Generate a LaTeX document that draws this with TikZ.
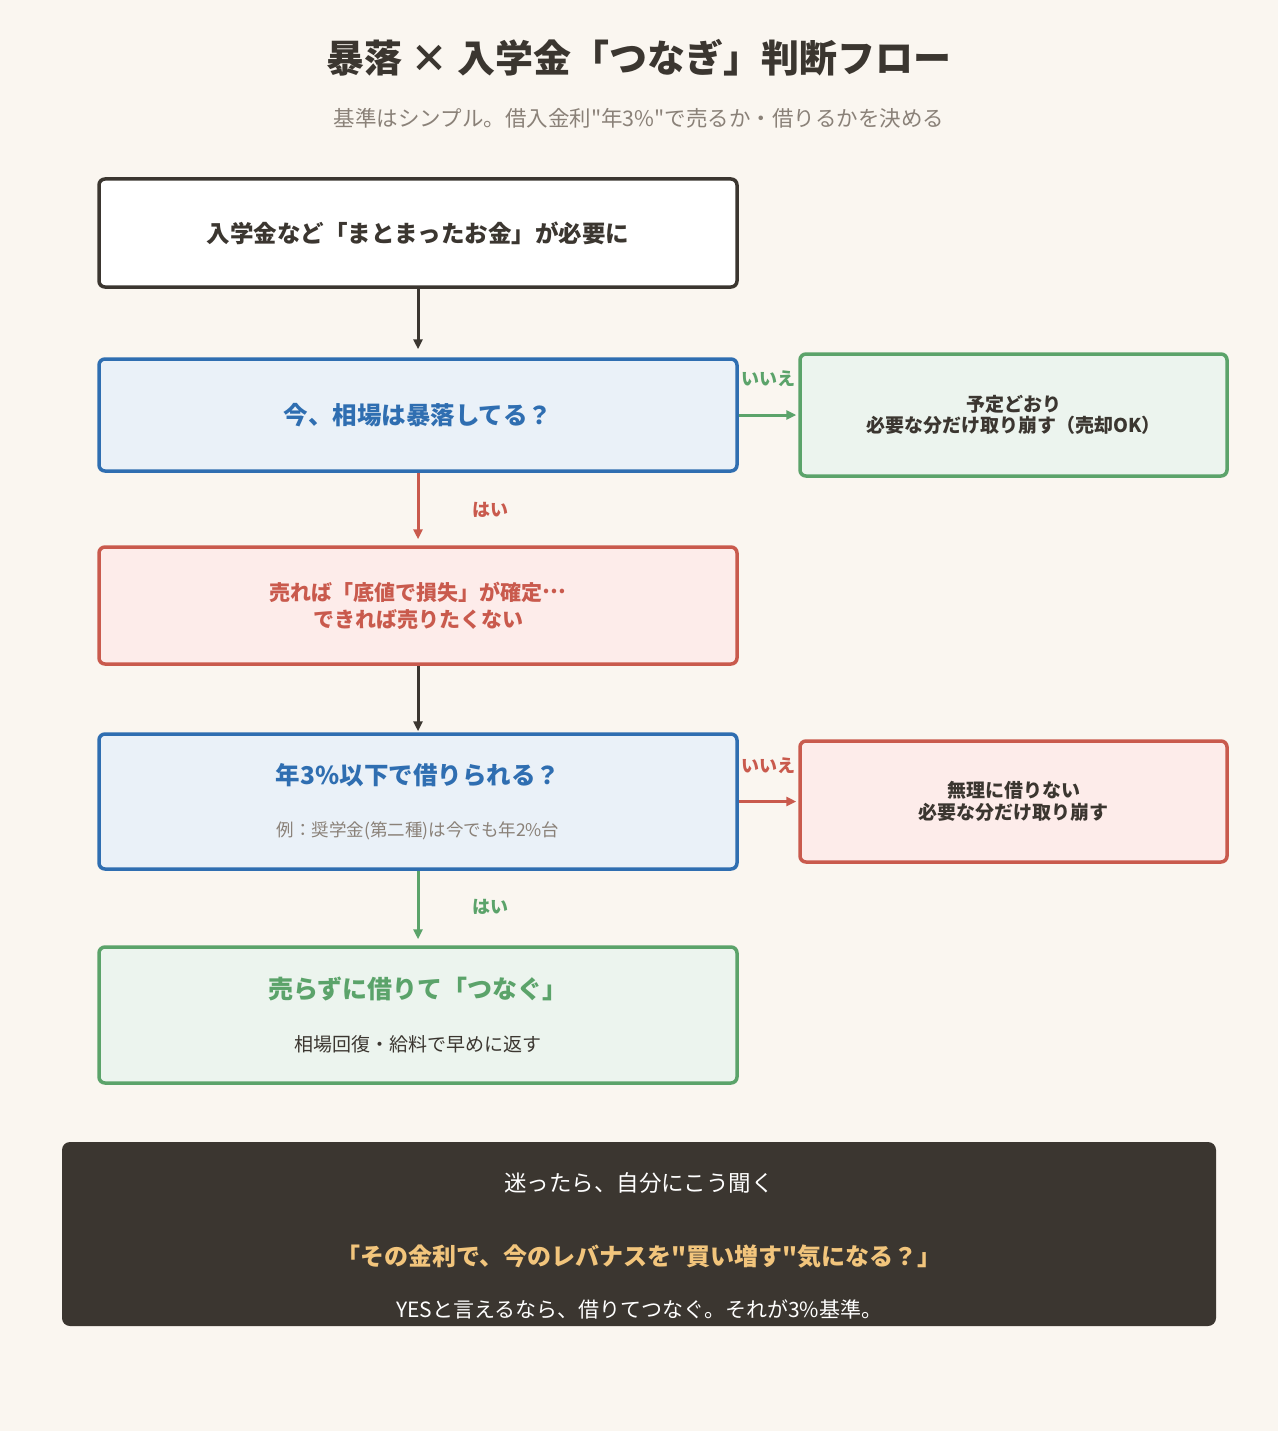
\documentclass[tikz,border=0pt]{standalone}
\usepackage{fontspec}
\setmainfont{Noto Sans CJK JP}[Ligatures=TeXOff]
\usetikzlibrary{arrows.meta}
\definecolor{kbg}{HTML}{FAF6F0}
\definecolor{kdark}{HTML}{3B3630}
\definecolor{kgray}{HTML}{8A8178}
\definecolor{kblue}{HTML}{2F6EB1}
\definecolor{kbluefill}{HTML}{EAF1F8}
\definecolor{kgreen}{HTML}{5BA36A}
\definecolor{kgreenfill}{HTML}{ECF4EE}
\definecolor{kred}{HTML}{C95A4D}
\definecolor{kredfill}{HTML}{FDECEA}
\definecolor{kgold}{HTML}{F2C57C}
\tikzset{
  box/.style={draw, rounded corners=6pt, line width=3.5pt, align=center, minimum width=638pt, inner sep=0pt},
  kstart/.style={box, fill=white, draw=kdark, text=kdark, font=\fontsize{23.5}{27}\selectfont\bfseries},
  kquestion/.style={box, fill=kbluefill, draw=kblue, text=kblue},
  kwarn/.style={box, fill=kredfill, draw=kred, text=kred},
  kok/.style={box, fill=kgreenfill, draw=kgreen, text=kgreen},
  kside/.style={box, minimum width=427pt, text=kdark, font=\fontsize{19}{21.5}\selectfont\bfseries},
  kpanel/.style={fill=kdark, rounded corners=8pt, minimum width=1154pt, minimum height=184pt},
  flow/.style={-{Triangle[length=10pt,width=9pt]}, line width=3pt},
  lbl/.style={font=\fontsize{18}{20}\selectfont\bfseries},
}
\newcommand{\qfont}{\fontsize{24.5}{28}\selectfont\bfseries}
\newcommand{\subfont}{\fontsize{17.5}{20}\selectfont\mdseries}

\begin{document}
\begin{tikzpicture}[x=1pt, y=-1pt]
    \fill[kbg] (0,0) rectangle (1278,1431);
    \useasboundingbox (0,0) rectangle (1278,1431);
    \node[text=kdark, font=\fontsize{38}{42}\selectfont\bfseries] (title) at (639,58) {暴落 × 入学金「つなぎ」判断フロー};
    \node[text=kgray, font=\fontsize{21.5}{24}\selectfont] (subtitle) at (639,118) {基準はシンプル。借入金利"年3\%"で売るか・借りるかを決める};
    \node[kstart, minimum height=108pt] (need) at (418,233) {入学金など「まとまったお金」が必要に};
    \node[kquestion, minimum height=112pt, font=\qfont] (crash) at (418,415) {今、相場は暴落してる？};
    \node[kside, fill=kgreenfill, draw=kgreen, minimum height=122pt] (plan) at (1013.5,415) {予定どおり\\必要な分だけ取り崩す（売却OK）};
    \node[kwarn, minimum height=117pt, font=\fontsize{21}{27}\selectfont\bfseries] (loss) at (418,605.5) {売れば「底値で損失」が確定\raisebox{0.3em}{…}\\できれば売りたくない};
    \node[kquestion, minimum height=135pt] (rate) at (418,801.5) {{\qfont 年3\%以下で借りられる？}\\[34pt]{\subfont\color{kgray}例：奨学金(第二種)は今でも年2\%台}};
    \node[kside, fill=kredfill, draw=kred, minimum height=121pt] (noborrow) at (1013.5,801.5) {無理に借りない\\必要な分だけ取り崩す};
    \node[kok, minimum height=136pt] (bridge) at (418,1015) {{\fontsize{25}{28}\selectfont\bfseries 売らずに借りて「つなぐ」}\\[33pt]{\fontsize{19}{22}\selectfont\mdseries\color{kdark}相場回復・給料で早めに返す}};
    \node[kpanel] (panel) at (639,1234) {};
    \node[text=white, font=\fontsize{22.5}{25}\selectfont] (ask) at (639,1183) {迷ったら、自分にこう聞く};
    \node[text=kgold, font=\fontsize{24}{28}\selectfont\bfseries] (quote) at (639,1256) {「その金利で、今のレバナスを"買い増す"気になる？」};
    \node[text=white, font=\fontsize{21}{24}\selectfont] (rule) at (639,1309) {YESと言えるなら、借りてつなぐ。それが3\%基準。};
    % branch labels
    \node[lbl, text=kgreen] (no1) at (768,379) {いいえ};
    \node[lbl, text=kred] (yes1) at (490,510) {はい};
    \node[lbl, text=kred] (no2) at (768,766) {いいえ};
    \node[lbl, text=kgreen] (yes2) at (490,907) {はい};
    \draw[flow, kdark, shorten >=8pt] (need) -- (crash);
    \draw[flow, kgreen, shorten >=2pt] (crash) -- (plan);
    \draw[flow, kred, shorten >=6pt] (crash) -- (loss);
    \draw[flow, kdark, shorten >=1pt] (loss) -- (rate);
    \draw[flow, kred, shorten >=2pt] (rate) -- (noborrow);
    \draw[flow, kgreen, shorten >=6pt] (rate) -- (bridge);
  \end{tikzpicture}
\end{document}
